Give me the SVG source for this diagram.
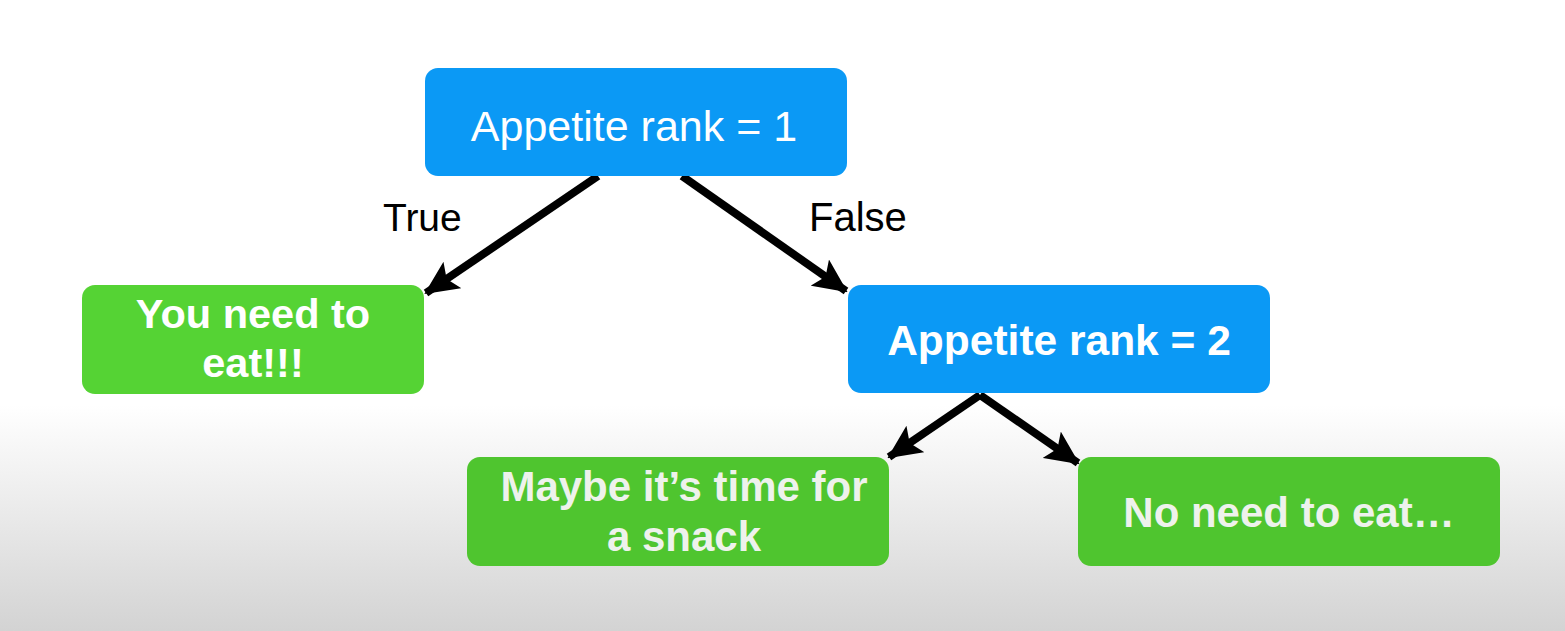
<svg xmlns="http://www.w3.org/2000/svg" width="1565" height="631" viewBox="0 0 1565 631">
<defs>
<linearGradient id="bg" x1="0" y1="405" x2="0" y2="631" gradientUnits="userSpaceOnUse">
<stop offset="0" stop-color="#ffffff"/>
<stop offset="1" stop-color="#d3d3d3"/>
</linearGradient>
<marker id="arr" viewBox="0 0 34 32" refX="32" refY="16" markerWidth="34" markerHeight="32" markerUnits="userSpaceOnUse" orient="auto">
<path d="M0,0 L34,16 L0,32 L7,16 Z" fill="#000"/>
</marker>
<style>
.blue{fill:#0b99f5}
.green{fill:#55d334}
.greenlow{fill:#4fc52f}
.t{font-family:"Liberation Sans",Arial,sans-serif;text-anchor:middle}
.wt{fill:#ffffff}
.wl{fill:#eef2ec}
.b{font-weight:bold}
.lbl{font-family:"Liberation Sans",Arial,sans-serif;fill:#000}
.edge{stroke:#000;stroke-width:8;fill:none;marker-end:url(#arr)}
</style>
</defs>
<rect width="1565" height="631" fill="url(#bg)"/>
<g id="connectors">
<line class="edge" x1="598" y1="176" x2="426" y2="293"/>
<line class="edge" x1="682" y1="176" x2="846" y2="291"/>
<line class="edge" x1="980" y1="395" x2="889" y2="457"/>
<line class="edge" x1="980" y1="395" x2="1078" y2="463"/>
<text class="lbl" x="383" y="231" font-size="39">True</text>
<text class="lbl" x="809" y="231" font-size="40">False</text>
</g>
<g id="node-rank1">
<rect class="blue" x="425" y="68" width="422" height="108" rx="13"/>
<text class="t wt" x="634" y="141" font-size="43">Appetite rank = 1</text>
</g>
<g id="node-eat">
<rect class="green" x="82" y="285" width="342" height="109" rx="13"/>
<text class="t wt b" x="253" y="328" font-size="41.5">You need to</text>
<text class="t wt b" x="253" y="377" font-size="41.5">eat!!!</text>
</g>
<g id="node-rank2">
<rect class="blue" x="848" y="285" width="422" height="108" rx="13"/>
<text class="t wt b" x="1059" y="355" font-size="42.5">Appetite rank = 2</text>
</g>
<g id="node-snack">
<rect class="greenlow" x="467" y="457" width="422" height="109" rx="13"/>
<text class="t wl b" x="684" y="501" font-size="42">Maybe it’s time for</text>
<text class="t wl b" x="684" y="551" font-size="42">a snack</text>
</g>
<g id="node-noeat">
<rect class="greenlow" x="1078" y="457" width="422" height="109" rx="13"/>
<text class="t wl b" x="1289" y="527" font-size="42">No need to eat…</text>
</g>
</svg>
